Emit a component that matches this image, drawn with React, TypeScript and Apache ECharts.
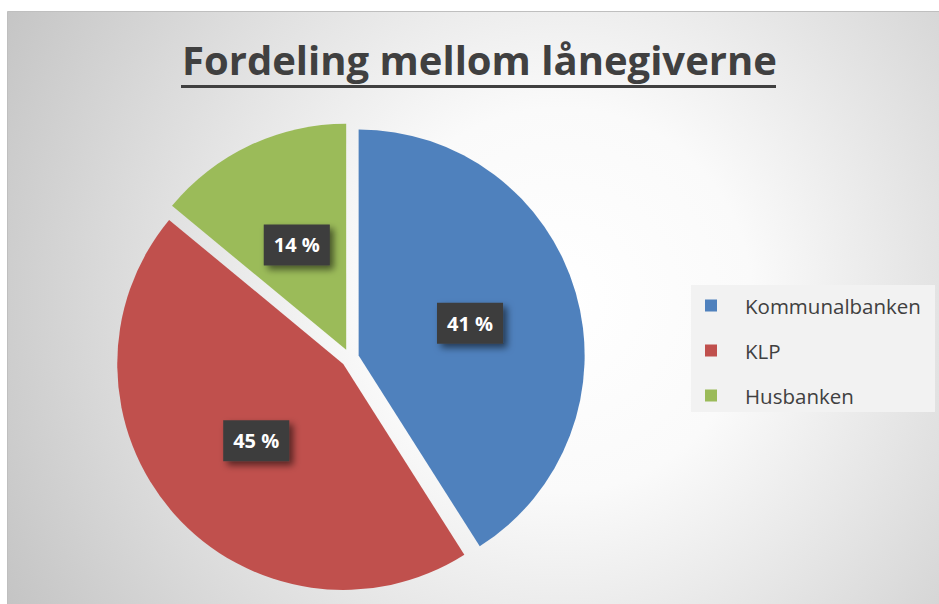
import React, { useEffect, useRef } from "react";
import * as echarts from "echarts";

const TITLE = "Fordeling mellom lånegiverne";
const categories = ["Kommunalbanken", "KLP", "Husbanken"];
const values = [41, 45, 14];
const colors = ["#4f81bd", "#c0504d", "#9bbb59"];

export default function App() {
  const ref = useRef<HTMLDivElement>(null);
  useEffect(() => {
    const chart = echarts.init(ref.current!, null, { renderer: "svg" });
    chart.setOption({
      animation: false,
      graphic: [
        {
          type: "rect",
          z: -10,
          silent: true,
          shape: { x: 7.5, y: 11.5, width: 1000, height: 700 },
          style: {
            fill: new echarts.graphic.RadialGradient(
              560,
              300,
              640,
              [
                { offset: 0, color: "#ffffff" },
                { offset: 0.3, color: "#fafafa" },
                { offset: 1, color: "#c3c3c3" },
              ],
              true
            ),
            stroke: "#bfbfbf",
            lineWidth: 1,
          },
        },
        {
          type: "rect",
          z: -5,
          silent: true,
          shape: { x: 691, y: 285, width: 244, height: 127 },
          style: { fill: "#f2f2f2" },
        },
        {
          type: "line",
          z: 10,
          silent: true,
          shape: { x1: 181, y1: 86.5, x2: 776, y2: 86.5 },
          style: { stroke: "#404040", lineWidth: 3 },
        },
      ],
      title: {
        text: TITLE,
        left: 182,
        top: 39,
        padding: 0,
        textStyle: {
          fontFamily: "Open Sans",
          fontWeight: "bold",
          fontSize: 40,
          color: "#404040",
        },
      },
      legend: {
        orient: "vertical",
        left: 705,
        top: 295,
        padding: 0,
        icon: "rect",
        itemWidth: 12,
        itemHeight: 12,
        itemGap: 24,
        data: categories,
        textStyle: {
          fontFamily: "Open Sans",
          fontSize: 20.5,
          lineHeight: 20,
          color: "#404040",
          padding: [0, 0, 0, 23],
        },
      },
      series: [
        {
          type: "pie",
          center: [350, 358],
          radius: 226,
          startAngle: 90,
          clockwise: true,
          selectedMode: "multiple",
          selectedOffset: 9,
          emphasis: { disabled: true },
          label: {
            show: true,
            position: "inside",
            formatter: "{d} %",
            color: "#ffffff",
            fontFamily: "Open Sans",
            fontWeight: "bold",
            fontSize: 20,
            backgroundColor: "#3d3d3d",
            padding: [11, 10, 10, 10],
            shadowColor: "rgba(0,0,0,0.55)",
            shadowBlur: 7,
            shadowOffsetX: 4,
            shadowOffsetY: 4,
          },
          labelLine: { show: false },
          data: categories.map((name, i) => ({
            name,
            value: values[i],
            selected: true,
            itemStyle: { color: colors[i] },
          })),
        },
      ],
    });
    return () => chart.dispose();
  }, []);
  return (
    <div
      ref={ref}
      style={{ position: "absolute", left: 0, top: 0, width: 939, height: 604 }}
    />
  );
}
